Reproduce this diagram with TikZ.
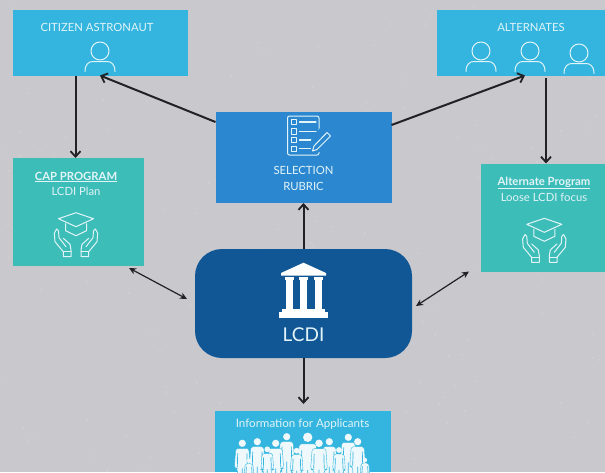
\documentclass[tikz,border=0pt]{standalone}
\usepackage{fontspec}
\setmainfont{Lato}
\usetikzlibrary{arrows.meta,calc}
\definecolor{bgc}{HTML}{C9C9CD}
\definecolor{skyc}{HTML}{33B5DF}
\definecolor{tealc}{HTML}{3DBDB8}
\definecolor{midc}{HTML}{2B88D0}
\definecolor{deepc}{HTML}{115795}
\definecolor{inkc}{HTML}{222226}
\definecolor{txtc}{HTML}{E2F4F8}
\tikzset{
  boxbase/.style={inner sep=0pt,outer sep=0pt,anchor=north west},
  skybox/.style={boxbase,fill=skyc},
  tealbox/.style={boxbase,fill=tealc},
  midbox/.style={boxbase,fill=midc},
  hubbox/.style={boxbase,fill=deepc,rounded corners=27pt},
  lab/.style={text=txtc,font=\fontsize{11.3}{13}\selectfont,inner sep=0pt},
  biglab/.style={text=txtc,font=\fontsize{19}{21}\selectfont,inner sep=0pt},
  arr/.style={draw=inkc,line width=2pt,-{Straight Barb[length=5.5pt,width=10pt,line width=1.8pt]}},
  thinarr/.style={draw=inkc,line width=1.2pt,{Stealth[length=7pt,width=6.5pt,inset=2pt]}-{Stealth[length=7pt,width=6.5pt,inset=2pt]}},
  icon/.style={draw=txtc,line width=1pt,line join=round,line cap=round,fill=none},
  person/.pic={
    \draw[icon] (0,-1) circle (9);
    \draw[icon] (-15,19.5) .. controls (-15,12) and (-11,9.5) .. (-7,9.5) -- (7,9.5) .. controls (11,9.5) and (15,12) .. (15,19.5);
  },
  gradhands/.pic={
    \draw[icon] (0,0) -- (17.5,6) -- (0,14) -- (-17.5,6) -- cycle;
    \draw[icon] (-10.5,11) -- (-10.5,18) -- (0,23) -- (10.5,18) -- (10.5,11);
    \foreach \s in {1,-1}{
      \begin{scope}[xscale=\s]
        \draw[icon] (-19.3,16.3) -- (-21.7,20.6) -- (-21,29) -- (-12.7,39) -- (-12.7,44) -- (-5,44) -- (-5,37.5) -- (-6,31.6) -- (-12.7,25.6);
        \draw[icon] (-19.3,16.3) -- (-17.5,18) -- (-17,25) -- (-10,34);
        \draw[icon] (-12.7,39) -- (-5,39);
      \end{scope}
    }
  },
  figure/.pic={
    \fill[white!92!skyc] (0,0) circle (3.6);
    \fill[white!92!skyc,draw=skyc,line width=0.4pt,rounded corners=2.5pt]
      (-6.5,5) -- (6.5,5) -- (8,25) -- (5,25) -- (4.5,42) -- (-4.5,42) -- (-5,25) -- (-8,25) -- cycle;
    \draw[skyc,line width=0.7pt] (-4.6,10) -- (-5,24) (4.6,10) -- (5,24) (0,25) -- (0,42);
  }
}
\begin{document}
\begin{tikzpicture}[x=1pt,y=-1pt]
\useasboundingbox (0,0) rectangle (605,472);
\fill[bgc] (0,0) rectangle (605,472);
\pgfmathsetseed{7}
\foreach \i in {1,...,170}{
  \pgfmathsetmacro{\px}{random(0,605)}
  \pgfmathsetmacro{\py}{random(0,472)}
  \fill[white,opacity=0.13] (\px,\py) circle (1.1);
}
% boxes
\node[skybox,minimum width=175.5pt,minimum height=65.5pt] (cit) at (12.5,10) {};
\node[skybox,minimum width=168.5pt,minimum height=65.5pt] (alt) at (436.5,10) {};
\node[tealbox,minimum width=131.5pt,minimum height=108pt] (cap) at (12.5,158) {};
\node[tealbox,minimum width=124pt,minimum height=108pt] (apr) at (481,163.5) {};
\node[midbox,minimum width=176pt,minimum height=91.5pt] (sel) at (215.5,111.5) {};
\node[hubbox,minimum width=217pt,minimum height=109pt] (hub) at (195,249) {};
\node[skybox,minimum width=176pt,minimum height=61pt] (inf) at (214.5,411) {};
% labels
\node[lab] (citlab) at (97,27) {CITIZEN ASTRONAUT};
\node[lab] (altlab) at (531,27) {ALTERNATES};
\node[lab] (caplab) at (76,177) {\textbf{\underline{CAP PROGRAM}}};
\node[lab] (capsub) at (76,191) {LCDI Plan};
\node[lab] (aprlab) at (544,183) {\textbf{\underline{Alternate Program}}};
\node[lab] (aprsub) at (544,197) {Loose LCDI focus};
\node[lab] (sellab) at (303.5,170) {SELECTION};
\node[lab] (rublab) at (303.5,186) {RUBRIC};
\node[biglab] (hublab) at (303.5,335) {LCDI};
\node[lab,font=\fontsize{11.6}{13}\selectfont] (inflab) at (302.5,424) {Information for Applicants};
% person icons
\pic at (100,52) {person};
\pic at (481,52) {person};
\pic at (530,52) {person};
\pic at (579,54) {person};
% graduation icons
\pic at (76,212.7) {gradhands};
\pic at (544.3,218.3) {gradhands};
% checklist
\draw[icon,rounded corners=2pt] (287.5,116) rectangle (319,155);
\foreach \yy/\xe in {122/316,131.3/316,140/316,148.7/311.5}{
  \draw[icon,line width=0.8pt] (291.8,\yy-2.7) rectangle (296.7,\yy+2.7);
  \draw[icon,line width=1.2pt] (299.5,\yy) -- (\xe,\yy);
}
\fill[midc] (311,140) -- (320,128) -- (334,131) -- (322,152) -- (311,152) -- cycle;
\draw[icon] (314,146) -- (327,132.5) -- (330.5,136) -- (317,149.5) -- (312.5,151) -- cycle;
% temple
\fill[white] (303.5,262.7) -- (326,273) -- (326,275.5) -- (281,275.5) -- (281,273) -- cycle;
\foreach \cx in {289.3,303.5,318}{
  \fill[white] (\cx-4.5,277) rectangle (\cx+4.5,280);
  \fill[white] (\cx-3.5,280) rectangle (\cx+3.5,309);
}
\fill[white] (282,309) rectangle (325,312);
\fill[white] (279,312) rectangle (328,317.5);
% people
\begin{scope}
  \clip (214.5,411) rectangle (390.5,472);
  \foreach \fx/\fy/\fs in {286.7/436.7/1,348.3/437.3/1,
    242.3/443.3/1,257.3/441.7/1,275.7/443.3/1,329.3/441.7/1,357.7/441.7/1,
    307.7/437.3/1.3,319/443.3/1.05,
    267.3/449.3/0.8,296.7/450.7/0.8,339/450/0.8,
    249/460.7/0.6,365/460/0.6}{
    \pic[scale=\fs] at (\fx,\fy) {figure};
  }
\end{scope}
% connectors
\draw[arr] ([xshift=63pt]cit.south west) -- ([xshift=63pt]cap.north west);
\draw[arr] ([yshift=-10.5pt]sel.north west) -- ([xshift=87.5pt]cit.south west);
\draw[arr] ([yshift=-13.5pt]sel.north east) -- ([xshift=88.5pt]alt.south west);
\draw[arr] ([xshift=109.5pt,yshift=-2.5pt]alt.south west) -- ([xshift=65pt]apr.north west);
\draw[arr] (hub.north) -- (sel.south);
\draw[arr] (hub.south) -- ([xshift=1pt,yshift=7pt]inf.north);
\draw[thinarr] ([xshift=-8pt,yshift=-50pt]hub.north west) -- ([xshift=-15pt,yshift=-2pt]cap.south east);
\draw[thinarr] ([xshift=4pt,yshift=-57pt]hub.north east) -- ([xshift=-12pt]apr.south west);
\end{tikzpicture}
\end{document}
